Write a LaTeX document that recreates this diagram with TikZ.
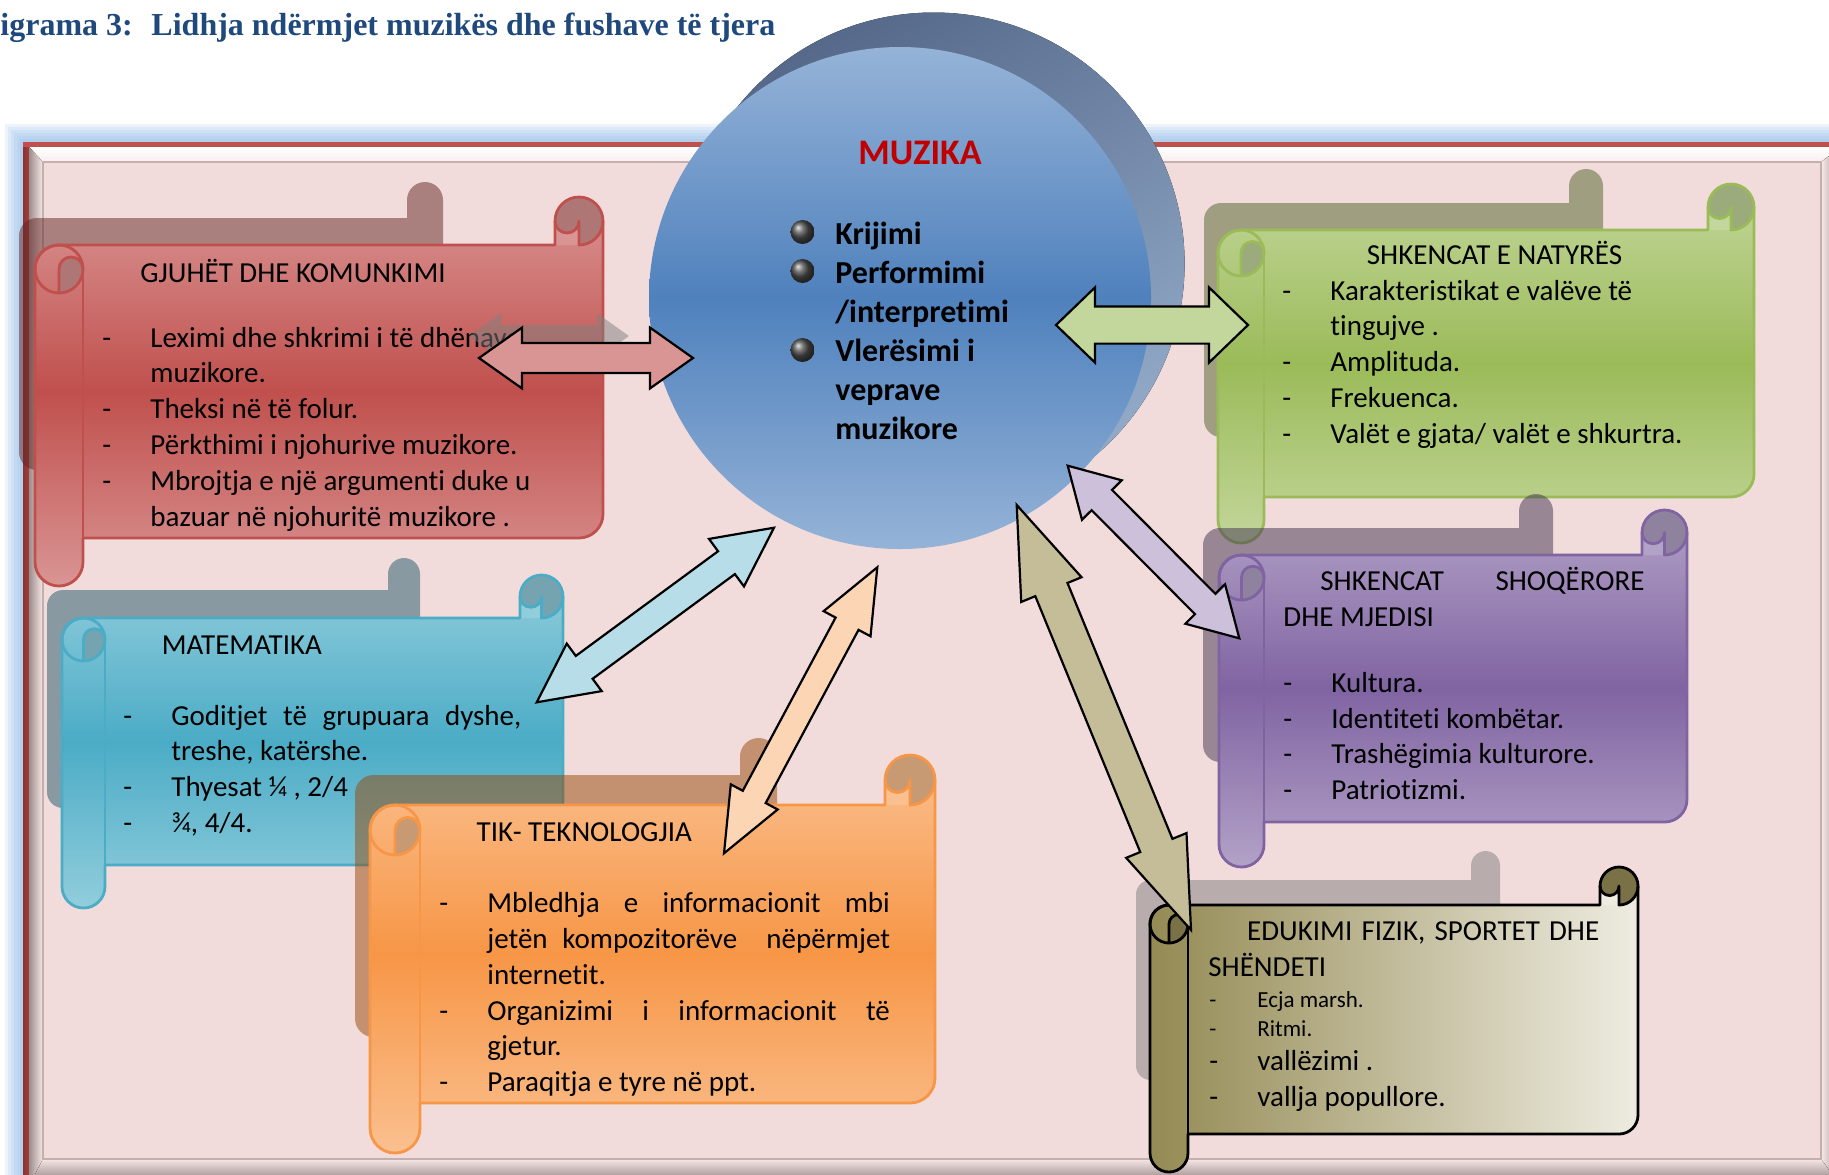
\documentclass[tikz,border=0pt]{standalone}
\usepackage{fontspec}
\setmainfont{Carlito}[Ligatures=CommonOff]
\newfontfamily\titlefont{Liberation Serif}
\usetikzlibrary{calc}
\usepackage{xcolor}

\definecolor{titleblue}{HTML}{1F497D}
\definecolor{framered}{HTML}{C0504D}
\definecolor{framedark}{HTML}{8E3330}
\definecolor{framepink}{HTML}{F2DCDB}
\definecolor{bandgray}{HTML}{A08C8C}
\definecolor{innerline}{HTML}{C4AEAE}
\definecolor{glowblue}{HTML}{8DB9E8}
\definecolor{circlelight}{HTML}{95B3D7}
\definecolor{circlemid}{HTML}{4F81BD}
\definecolor{circshadowA}{HTML}{56698A}
\definecolor{circshadowB}{HTML}{93ABC9}
\definecolor{muzikared}{HTML}{C00000}
% scroll colours
\definecolor{redtop}{HTML}{D99594}\definecolor{redmid}{HTML}{C0504D}
\definecolor{redline}{HTML}{C0504D}\definecolor{reddark}{HTML}{AE7776}
\definecolor{redshadow}{HTML}{632523}\colorlet{redpatch}{redtop}
\definecolor{greentop}{HTML}{C3D69B}\definecolor{greenmid}{HTML}{9BBB59}
\definecolor{greenline}{HTML}{9BBB59}\definecolor{greendark}{HTML}{9CAB7C}
\definecolor{greenshadow}{HTML}{4F6228}\colorlet{greenpatch}{greentop}
\definecolor{bluetop}{HTML}{92CDDC}\definecolor{bluemid}{HTML}{4BACC6}
\definecolor{blueline}{HTML}{4BACC6}\definecolor{bluedark}{HTML}{75A4B0}
\definecolor{blueshadow}{HTML}{215868}\colorlet{bluepatch}{bluetop}
\definecolor{orangetop}{HTML}{FAC090}\definecolor{orangemid}{HTML}{F79646}
\definecolor{orangeline}{HTML}{F79646}\definecolor{orangedark}{HTML}{C89A73}
\definecolor{orangeshadow}{HTML}{984807}\colorlet{orangepatch}{orangetop}
\definecolor{purpletop}{HTML}{B3A2C7}\definecolor{purplemid}{HTML}{8064A2}
\definecolor{purpleline}{HTML}{8064A2}\definecolor{purpledark}{HTML}{8F829F}
\definecolor{purpleshadow}{HTML}{3F3151}\colorlet{purplepatch}{purpletop}
\definecolor{olivetop}{HTML}{948A54}\definecolor{olivemid}{HTML}{EEECE1}
\definecolor{oliveline}{HTML}{000000}\definecolor{olivedark}{HTML}{7A7147}
\definecolor{oliveshadow}{HTML}{7F7F7F}\colorlet{olivepatch}{olivemid}
% arrow colours
\definecolor{arrowred}{HTML}{D99594}
\definecolor{arrowgreen}{HTML}{C3D69B}
\definecolor{arrowblue}{HTML}{B7DEE8}
\definecolor{arrowpeach}{HTML}{FCD5B5}
\definecolor{arrowpurple}{HTML}{CCC0DA}
\definecolor{arrowolive}{HTML}{C4BD97}

\newcommand{\bodyfont}{\fontsize{14.5pt}{17.9pt}\selectfont}
\newcommand{\itm}[1]{\makebox[24pt][l]{-}#1}
\newcommand{\cnt}[1]{\hspace*{24pt}#1}
\newcommand{\jst}[2]{\makebox[#1][s]{#2}}

% outline of a scroll: left, top, right, bottom, roll size
\newcommand{\scrollpath}[5]{(#1,#2+1.5*#5) arc[start angle=180, end angle=270, radius=#5/2]
  -- (#3-#5,#2+#5) -- (#3-#5,#2+#5/2) arc[start angle=180, end angle=360, radius=#5/2]
  -- (#3,#4-1.5*#5) arc[start angle=0, end angle=90, radius=#5/2]
  -- (#1+#5,#4-#5) -- (#1+#5,#4-#5/2) arc[start angle=0, end angle=180, radius=#5/2] -- cycle}

% scroll with rolls: left, top, right, bottom, roll size, fill, colour prefix
\newcommand{\scrollbox}[7]{%
  \fill[#6] \scrollpath{#1}{#2}{#3}{#4}{#5};
  \fill[#7dark] (#3-#5/2,#2+#5/2) circle[radius=#5/2];
  \fill[#7patch] (#3-#5,#2+#5/2) arc[start angle=180, end angle=0, radius=#5/4]
    -- (#3-#5/2,#2+#5) -- (#3-#5,#2+#5) -- cycle;
  \fill[#7dark] (#1+#5/2,#2+1.5*#5) -- (#1+#5/2,#2+2*#5) arc[start angle=90, end angle=0, radius=#5/2]
    arc[start angle=0, end angle=-180, radius=#5/4] -- cycle;
  \draw[scrollline, #7line] \scrollpath{#1}{#2}{#3}{#4}{#5};
  \draw[scrollline, #7line] (#1+#5/2,#2+1.5*#5) circle[radius=#5/2];
  \draw[scrollline, #7line] (#1+#5,#2+1.5*#5) -- (#1+#5,#4-#5);
  \draw[scrollline, #7line] (#1+#5/2,#2+2*#5) -- (#1+#5/2,#2+1.5*#5) arc[start angle=180, end angle=360, radius=#5/4];
  \draw[scrollline, #7line] (#3,#2+#5/2) arc[start angle=0, end angle=90, radius=#5/2]
    -- (#3-#5/2,#2+#5/2) arc[start angle=0, end angle=180, radius=#5/4];
}

% block arrow with two heads: style, from, to, head length, head half width, shaft half width, name
\newcommand{\dblarrow}[7]{%
  \coordinate (#7a) at ($(#2)!#4!(#3)$);
  \coordinate (#7b) at ($(#3)!#4!(#2)$);
  \path[#1] (#2) -- ($(#7a)!#5!90:(#3)$) -- ($(#7a)!#6!90:(#3)$) -- ($(#7b)!#6!-90:(#2)$)
    -- ($(#7b)!#5!-90:(#2)$) -- (#3) -- ($(#7b)!#5!90:(#2)$) -- ($(#7b)!#6!90:(#2)$)
    -- ($(#7a)!#6!-90:(#3)$) -- ($(#7a)!#5!-90:(#3)$) -- cycle;
}

\tikzset{
  scrollline/.style={line width=1.4pt, line join=round},
  arrowline/.style={draw=black, line width=1.1pt, line join=miter},
  arrowshadow/.style={fill=gray, fill opacity=.5},
  listtext/.style={anchor=base west, inner sep=0pt, font=\bodyfont},
  smalltext/.style={anchor=base west, inner sep=0pt, font=\fontsize{11.5pt}{14.7pt}\selectfont},
  musictext/.style={anchor=base west, inner sep=0pt, font=\bfseries\fontsize{16pt}{19.5pt}\selectfont},
}

\begin{document}
\begin{tikzpicture}[x=0.5pt, y=-0.5pt]
\useasboundingbox (0,0) rectangle (1829,1174);
\fill[white] (0,0) rectangle (1829,1174);

\node[anchor=base west, inner sep=0pt, text=titleblue, font=\titlefont\bfseries\fontsize{16pt}{19pt}\selectfont] (title) at (0,35) {igrama 3:~ Lidhja ndërmjet muzikës dhe fushave të tjera};

% frame
\foreach \i in {1,...,6}
	\draw[glowblue, opacity=.16, line width=\i*3pt] (23,142) rectangle (1847,1192);
\fill[framered] (23,142) rectangle (1847,1192);
\fill[left color=framedark, right color=framered!80!black] (23,147) rectangle (29,1192);
\fill[top color=white, bottom color=framepink!50!white] (29,147) -- (1841,147) -- (1821,162) -- (43,162) -- cycle;
\fill[left color=bandgray, right color=framepink!60!white] (29,147) -- (43,162) -- (43,1159) -- (29,1186) -- cycle;
\fill[left color=framepink!60!white, right color=bandgray] (1821,162) -- (1841,147) -- (1841,1186) -- (1821,1159) -- cycle;
\fill[top color=framepink!70!white, bottom color=bandgray!80!black] (43,1159) -- (1821,1159) -- (1841,1186) -- (29,1186) -- cycle;
\filldraw[fill=framepink, draw=innerline, line width=.6pt] (43,162) rectangle (1821,1159);

% music circle
\fill[top color=circshadowA, bottom color=circshadowB, shading angle=30] (933.6,263.5) circle[radius=251];
\node[circle, minimum size=251pt, inner sep=0pt, top color=circlelight, bottom color=circlelight, middle color=circlemid] (muzika) at (900,298) {};
\node[anchor=base, inner sep=0pt, text=muzikared, font=\bfseries\fontsize{18pt}{21pt}\selectfont] (muzikaTitle) at (920,164) {MUZIKA};
\foreach \y in {232,271,350}
	\shade[ball color=black!70] (802.5,\y) circle[radius=12];
\node[musictext] (muzikaList) at (835,244) {\parbox[t]{120pt}{Krijimi\\ Performimi\\ /interpretimi\\ Vlerësimi i\\ veprave\\ muzikore}};

% GJUHET
\fill[redshadow, opacity=.5] \scrollpath{19}{182}{443}{470}{36};
\scrollbox{35}{197}{603}{586}{48}{top color=redtop, bottom color=redtop, middle color=redmid}{red}
\node[listtext] (gjuhaTitle) at (140,282) {GJUHËT DHE KOMUNKIMI};
\node[listtext] (gjuhaList) at (102,347) {\parbox[t]{260pt}{\itm{Leximi dhe shkrimi i të dhënave}\\ \cnt{muzikore.}\\ \itm{Theksi në të folur.}\\ \itm{Përkthimi i njohurive muzikore.}\\ \itm{Mbrojtja e një argumenti duke u}\\ \cnt{bazuar në njohuritë muzikore .}}};

% NATYRA
\fill[greenshadow, opacity=.5] \scrollpath{1204}{169}{1603}{437}{34};
\scrollbox{1218}{184}{1754}{543}{46}{top color=greentop, bottom color=greentop, middle color=greenmid}{green}
\node[listtext] (natyraTitle) at (1366.5,264) {SHKENCAT E NATYRËS};
\node[listtext] (natyraList) at (1282,300) {\parbox[t]{260pt}{\itm{Karakteristikat e valëve të}\\ \cnt{tingujve .}\\ \itm{Amplituda.}\\ \itm{Frekuenca.}\\ \itm{Valët e gjata/ valët e shkurtra.}}};

% MATEMATIKA
\fill[blueshadow, opacity=.5] \scrollpath{47}{558}{420}{808}{32};
\scrollbox{62}{575}{563}{908}{43}{top color=bluetop, bottom color=bluetop, middle color=bluemid}{blue}
\node[listtext] (matTitle) at (161.4,654) {MATEMATIKA};
\node[listtext] (matList) at (123,725) {\parbox[t]{230pt}{\itm{\jst{175pt}{Goditjet të grupuara dyshe,}}\\ \cnt{treshe, katërshe.}\\ \itm{Thyesat ¼ , 2/4}\\ \itm{¾, 4/4.}}};

% TIK
\fill[orangeshadow, opacity=.5] \scrollpath{355}{738}{777}{1037}{37};
\scrollbox{370}{755}{935}{1153}{50}{top color=orangetop, bottom color=orangetop, middle color=orangemid}{orange}
\node[listtext] (tikTitle) at (476.3,841.7) {TIK- TEKNOLOGJIA};
\node[listtext] (tikList) at (439,912.7) {\parbox[t]{240pt}{\itm{\jst{201.3pt}{Mbledhja e informacionit mbi}}\\ \cnt{\jst{201.3pt}{jetën kompozitorëve~ nëpërmjet}}\\ \cnt{internetit.}\\ \itm{\jst{201.3pt}{Organizimi i informacionit të}}\\ \cnt{gjetur.}\\ \itm{Paraqitja e tyre në ppt.}}};

% SHOQERORE
\fill[purpleshadow, opacity=.5] \scrollpath{1203}{494}{1553}{762}{34};
\scrollbox{1219}{510}{1687}{867}{45}{top color=purpletop, bottom color=purpletop, middle color=purplemid}{purple}
\node[listtext] (shoqTitle) at (1283,590.7) {\parbox[t]{220pt}{\hspace*{18.5pt}\jst{162pt}{SHKENCAT SHOQËRORE}\\ DHE MJEDISI}};
\node[listtext] (shoqList) at (1283,692.3) {\parbox[t]{200pt}{\itm{Kultura.}\\ \itm{Identiteti kombëtar.}\\ \itm{Trashëgimia kulturore.}\\ \itm{Patriotizmi.}}};

% EDUKIMI FIZIK
\fill[oliveshadow, opacity=.5] \scrollpath{1136}{851}{1500}{1080}{29};
\scrollbox{1150}{867}{1638}{1172}{38}{left color=olivetop, right color=olivemid}{olive}
\node[listtext] (fizikTitle) at (1208,940.7) {\parbox[t]{220pt}{\hspace*{19.4pt}\jst{176pt}{EDUKIMI FIZIK, SPORTET DHE}\\ SHËNDETI}};
\node[smalltext] (fizikSmall) at (1209,1007.3) {\parbox[t]{160pt}{\itm{Ecja marsh.}\\ \itm{Ritmi.}}};
\node[listtext] (fizikList) at (1209,1070.7) {\parbox[t]{200pt}{\itm{vallëzimi .}\\ \itm{vallja popullore.}}};

% arrow ends
\coordinate (gjuhaSA) at (469,336);
\coordinate (gjuhaSB) at (629,336);
\coordinate (gjuhaA) at (479,358);
\coordinate (gjuhaB) at (693,358);
\coordinate (natyraA) at (1056,325);
\coordinate (natyraB) at (1248,325);
\coordinate (matA) at (536.7,702.3);
\coordinate (matB) at (774,527.7);
\coordinate (tikA) at (724,853.3);
\coordinate (tikB) at (877.3,567.3);
\coordinate (shoqA) at (1067.7,465.7);
\coordinate (shoqB) at (1239.3,638.3);
\coordinate (fizikA) at (1016.7,505);
\coordinate (fizikB) at (1191,930);

% arrows
\dblarrow{arrowshadow}{gjuhaSA}{gjuhaSB}{16pt}{11.4pt}{5.6pt}{gjs}
\dblarrow{arrowline, fill=arrowred}{gjuhaA}{gjuhaB}{21.5pt}{15.2pt}{7.5pt}{gj}
\dblarrow{arrowline, fill=arrowgreen}{natyraA}{natyraB}{19.5pt}{18.8pt}{9.3pt}{nt}
\dblarrow{arrowline, fill=arrowblue}{matA}{matB}{29.5pt}{14.75pt}{7.1pt}{mt}
\dblarrow{arrowline, fill=arrowpeach}{tikA}{tikB}{32pt}{13.3pt}{6.5pt}{tk}
\dblarrow{arrowline, fill=arrowpurple}{shoqA}{shoqB}{24.2pt}{14pt}{7.2pt}{sq}
\dblarrow{arrowline, fill=arrowolive}{fizikA}{fizikB}{45.7pt}{16.3pt}{8.7pt}{fz}
\end{tikzpicture}
\end{document}
